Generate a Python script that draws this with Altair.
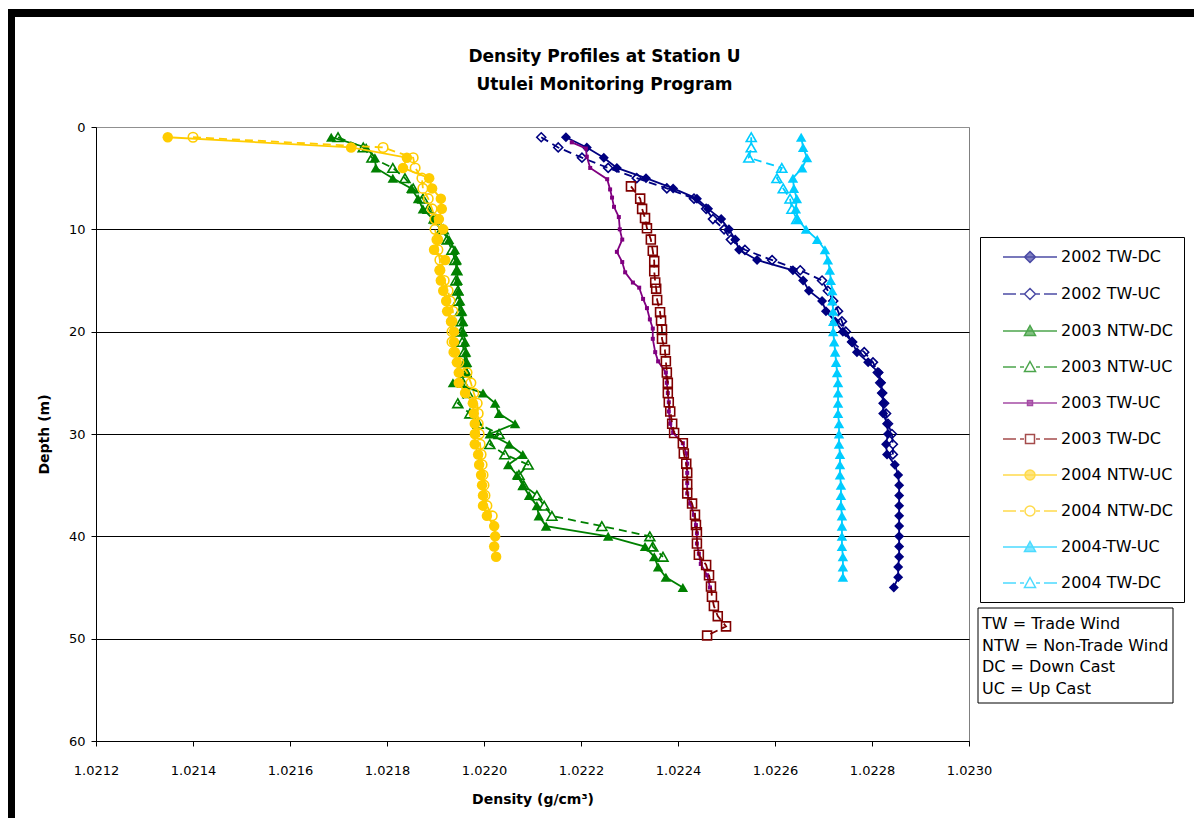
import altair as alt
import pandas as pd

TITLE_LINES = ["Density Profiles at Station U", "Utulei Monitoring Program"]
X_TITLE = "Density (g/cm³)"
Y_TITLE = "Depth (m)"
X_TICKS = [1.0212, 1.0214, 1.0216, 1.0218, 1.0220, 1.0222, 1.0224, 1.0226, 1.0228, 1.0230]
Y_TICKS = [0, 10, 20, 30, 40, 50, 60]
NOTES = ["TW = Trade Wind", "NTW = Non-Trade Wind", "DC = Down Cast", "UC = Up Cast"]

SERIES = ["2002 TW-DC", "2002 TW-UC", "2003 NTW-DC", "2003 NTW-UC", "2003 TW-UC",
          "2003 TW-DC", "2004 NTW-UC", "2004 NTW-DC", "2004-TW-UC", "2004 TW-DC"]

# ---- data (depth in m, density in g/cm3) ----
depth_2002_tw_dc = [1, 2, 3, 4, 5, 6, 7, 8, 9, 10, 11, 12, 13, 14, 15, 16, 17, 18, 19, 20, 21, 22, 23,
                    24, 25, 26, 27, 28, 29, 30, 31, 32, 33, 34, 35, 36, 37, 38, 39, 40, 41, 42, 43, 44, 45]
dens_2002_tw_dc = [1.022169, 1.022212, 1.022247, 1.022274, 1.022334, 1.022390, 1.022439, 1.022462,
                   1.022489, 1.022505, 1.022518, 1.022526, 1.022563, 1.022637, 1.022658, 1.022670,
                   1.022697, 1.022705, 1.022724, 1.022740, 1.022759, 1.022769, 1.022792, 1.022814,
                   1.022819, 1.022821, 1.022823, 1.022823, 1.022831, 1.022833, 1.022829, 1.022831,
                   1.022847, 1.022854, 1.022856, 1.022856, 1.022856, 1.022856, 1.022856, 1.022856,
                   1.022856, 1.022856, 1.022854, 1.022854, 1.022845]

depth_2002_tw_uc = [1, 2, 3, 4, 5, 6, 7, 8, 9, 10, 11, 12, 13, 14, 15, 16, 17, 18, 19, 20, 21, 22,
                    23, 24, 25, 26, 27, 28, 29, 30, 31, 32]
dens_2002_tw_uc = [1.022118, 1.022153, 1.022202, 1.022256, 1.022315, 1.022377, 1.022433, 1.022458,
                   1.022472, 1.022495, 1.022509, 1.022538, 1.022594, 1.022652, 1.022697, 1.022709,
                   1.022720, 1.022730, 1.022738, 1.022746, 1.022759, 1.022784, 1.022802, 1.022812,
                   1.022817, 1.022821, 1.022825, 1.022829, 1.022833, 1.022841, 1.022843, 1.022843]

depth_2003_ntw_dc = [1, 2, 3, 4, 5, 6, 7, 8, 9, 10, 11, 12, 13, 14, 15, 16, 17, 18, 19, 20, 21, 22, 23,
                     24, 25, 26, 27, 28, 29, 30, 31, 32, 33, 34, 35, 36, 37, 38, 39, 40, 41, 42, 43, 44, 45]
dens_2003_ntw_dc = [1.021685, 1.021757, 1.021775, 1.021777, 1.021812, 1.021850, 1.021864, 1.021874,
                    1.021895, 1.021911, 1.021928, 1.021940, 1.021944, 1.021944, 1.021946, 1.021948,
                    1.021951, 1.021955, 1.021957, 1.021957, 1.021961, 1.021963, 1.021965, 1.021965,
                    1.021936, 1.021998, 1.022023, 1.022031, 1.022064, 1.022012, 1.022052, 1.022080,
                    1.022050, 1.022068, 1.022080, 1.022093, 1.022109, 1.022113, 1.022128, 1.022256,
                    1.022332, 1.022351, 1.022359, 1.022375, 1.022410]

depth_2003_ntw_uc = [1, 2, 3, 4, 5, 6, 7, 8, 9, 10, 11, 12, 13, 14, 15, 16, 17, 18, 19, 20, 21, 22, 23,
                     24, 25, 26, 27, 28, 29, 30, 31, 32, 33, 34, 35, 36, 37, 38, 39, 40, 41, 42]
dens_2003_ntw_uc = [1.021699, 1.021751, 1.021769, 1.021812, 1.021837, 1.021854, 1.021874, 1.021885,
                    1.021901, 1.021916, 1.021924, 1.021934, 1.021940, 1.021944, 1.021942, 1.021946,
                    1.021946, 1.021951, 1.021953, 1.021953, 1.021955, 1.021959, 1.021961, 1.021963,
                    1.021957, 1.021967, 1.021946, 1.021971, 1.021988, 1.022031, 1.022012, 1.022043,
                    1.022091, 1.022072, 1.022082, 1.022109, 1.022124, 1.022140, 1.022243, 1.022342,
                    1.022348, 1.022369]

depth_2003_tw_uc = [1.5, 2.1, 2.9, 4.0, 5.1, 6.1, 6.9, 7.8, 8.8, 10.0, 11.0, 12.2, 13.2, 14.2, 15.2,
                    15.7, 16.8, 17.7, 18.8, 19.7, 20.7, 22.0, 22.9, 24.0, 25.0, 26.0, 26.9, 27.8, 29.0,
                    29.9, 30.9, 31.9, 32.9, 33.8, 34.8, 35.8, 36.8, 37.9, 38.9, 39.7, 40.7, 41.7, 42.7,
                    43.8, 45.0]
dens_2003_tw_uc = [1.022181, 1.022210, 1.022212, 1.022219, 1.022254, 1.022260, 1.022264, 1.022268,
                   1.022278, 1.022280, 1.022285, 1.022274, 1.022285, 1.022291, 1.022307, 1.022320,
                   1.022328, 1.022336, 1.022342, 1.022348, 1.022348, 1.022353, 1.022359, 1.022375,
                   1.022377, 1.022379, 1.022381, 1.022381, 1.022384, 1.022390, 1.022410, 1.022417,
                   1.022419, 1.022419, 1.022419, 1.022419, 1.022425, 1.022433, 1.022437, 1.022439,
                   1.022439, 1.022443, 1.022447, 1.022460, 1.022466]

depth_2003_tw_dc = [5.8, 7.0, 8.0, 8.9, 9.9, 11.0, 12.1, 13.1, 14.1, 15.2, 15.8, 16.9, 18.1, 18.9, 19.8,
                    20.7, 21.8, 22.9, 24.0, 25.0, 26.0, 26.9, 27.8, 29.0, 29.9, 30.9, 31.9, 32.9, 33.8,
                    34.9, 35.8, 36.8, 37.9, 38.9, 39.6, 40.7, 41.8, 42.8, 43.8, 44.9, 45.9, 46.8, 47.8,
                    48.8, 49.7]
dens_2003_tw_dc = [1.022303, 1.022322, 1.022326, 1.022332, 1.022336, 1.022344, 1.022348, 1.022351,
                   1.022351, 1.022353, 1.022355, 1.022357, 1.022363, 1.022365, 1.022367, 1.022367,
                   1.022373, 1.022375, 1.022377, 1.022379, 1.022379, 1.022381, 1.022384, 1.022388,
                   1.022392, 1.022410, 1.022412, 1.022417, 1.022419, 1.022419, 1.022419, 1.022429,
                   1.022435, 1.022437, 1.022439, 1.022439, 1.022443, 1.022458, 1.022464, 1.022468,
                   1.022470, 1.022474, 1.022482, 1.022499, 1.022460]

depth_2004_ntw_uc = [1, 2, 3, 4, 5, 6, 7, 8, 9, 10, 11, 12, 13, 14, 15, 16, 17, 18, 19, 20, 21, 22, 23,
                     24, 25, 26, 27, 28, 29, 30, 31, 32, 33, 34, 35, 36, 37, 38, 39, 40, 41, 42]
dens_2004_ntw_uc = [1.021348, 1.021726, 1.021841, 1.021833, 1.021887, 1.021893, 1.021911, 1.021913,
                    1.021907, 1.021916, 1.021905, 1.021897, 1.021920, 1.021909, 1.021911, 1.021916,
                    1.021922, 1.021924, 1.021932, 1.021938, 1.021938, 1.021940, 1.021944, 1.021948,
                    1.021948, 1.021961, 1.021977, 1.021979, 1.021981, 1.021981, 1.021981, 1.021988,
                    1.021990, 1.021994, 1.021996, 1.021998, 1.021998, 1.022006, 1.022021, 1.022023,
                    1.022021, 1.022025]

depth_2004_ntw_dc = [1, 2, 3, 4, 5, 6, 7, 8, 9, 10, 11, 12, 13, 14, 15, 16, 17, 18, 19, 20, 21, 22, 23,
                     24, 25, 26, 27, 28, 29, 30, 31, 32, 33, 34, 35, 36, 37, 38]
dens_2004_ntw_dc = [1.021400, 1.021792, 1.021854, 1.021858, 1.021872, 1.021874, 1.021885, 1.021893,
                    1.021899, 1.021899, 1.021903, 1.021905, 1.021909, 1.021909, 1.021918, 1.021926,
                    1.021930, 1.021936, 1.021934, 1.021934, 1.021934, 1.021938, 1.021948, 1.021965,
                    1.021973, 1.021979, 1.021986, 1.021988, 1.021988, 1.021990, 1.021992, 1.021994,
                    1.021996, 1.021998, 1.022000, 1.022002, 1.022006, 1.022017]

depth_2004_tw_uc = [1, 2, 3, 4, 5, 6, 7, 8, 9, 10, 11, 12, 13, 14, 15, 16, 17, 18, 19, 20, 21, 22, 23,
                    24, 25, 26, 27, 28, 29, 30, 31, 32, 33, 34, 35, 36, 37, 38, 39, 40, 41, 42, 43, 44]
dens_2004_tw_uc = [1.022654, 1.022658, 1.022666, 1.022656, 1.022637, 1.022639, 1.022645, 1.022643,
                   1.022647, 1.022664, 1.022687, 1.022703, 1.022709, 1.022713, 1.022715, 1.022718,
                   1.022718, 1.022720, 1.022720, 1.022720, 1.022722, 1.022724, 1.022726, 1.022728,
                   1.022730, 1.022730, 1.022730, 1.022730, 1.022732, 1.022732, 1.022732, 1.022734,
                   1.022734, 1.022734, 1.022736, 1.022736, 1.022736, 1.022738, 1.022738, 1.022738,
                   1.022738, 1.022740, 1.022740, 1.022740]

depth_2004_tw_dc = [1, 2, 3, 4, 5, 6, 7, 8, 9]
dens_2004_tw_dc = [1.022551, 1.022551, 1.022546, 1.022614, 1.022604, 1.022617, 1.022631, 1.022635,
                   1.022645]

SERIES_DATA = [
    (depth_2002_tw_dc, dens_2002_tw_dc), (depth_2002_tw_uc, dens_2002_tw_uc),
    (depth_2003_ntw_dc, dens_2003_ntw_dc), (depth_2003_ntw_uc, dens_2003_ntw_uc),
    (depth_2003_tw_uc, dens_2003_tw_uc), (depth_2003_tw_dc, dens_2003_tw_dc),
    (depth_2004_ntw_uc, dens_2004_ntw_uc), (depth_2004_ntw_dc, dens_2004_ntw_dc),
    (depth_2004_tw_uc, dens_2004_tw_uc), (depth_2004_tw_dc, dens_2004_tw_dc),
]

# ---- styles ----
COLORS = ["#000080", "#000080", "#008000", "#008000", "#800080",
          "#800000", "#FFCC00", "#FFCC00", "#00CCFF", "#00CCFF"]
SHAPES = ["diamond", "diamond", "triangle-up", "triangle-up", "square",
          "square", "circle", "circle", "triangle-up", "triangle-up"]
FILLED = [True, False, True, False, True, False, True, False, True, False]
DASHED = [False, True, False, True, False, True, False, True, False, True]
SIZES = [100, 80, 110, 100, 16, 80, 110, 90, 110, 100]

FONT = "DejaVu Sans"

# ---- legend symbols: a line segment with the marker in its middle (custom SVG paths) ----
SYM_SIDE = 16.0           # nominal legend symbol side (px)
UNIT = SYM_SIDE / 2       # px per path unit
MARK_CX = 30.0            # marker centre, px to the right of the nominal symbol centre


def _p(xp, yp):
    return f"{(MARK_CX + xp) / UNIT:.3f},{yp / UNIT:.3f}"


def seg(x0, x1):
    return f"M{_p(x0, 0)}L{_p(x1, 0)}"


LINE_SOLID = seg(-27, 27)
LINE_DASH = seg(-27, -14) + seg(-10, -6) + seg(6, 10) + seg(14, 27)
MARK = {
    "diamond": f"M{_p(0, -5.5)}L{_p(5.5, 0)}L{_p(0, 5.5)}L{_p(-5.5, 0)}Z",
    "triangle-up": f"M{_p(0, -5.5)}L{_p(5.5, 4.5)}L{_p(-5.5, 4.5)}Z",
    "circle": (f"M{_p(5, 0)}A{5 / UNIT:.3f},{5 / UNIT:.3f},0,1,1,{_p(-5, 0)}"
               f"A{5 / UNIT:.3f},{5 / UNIT:.3f},0,1,1,{_p(5, 0)}Z"),
    "square": f"M{_p(-4.5, -4.5)}L{_p(4.5, -4.5)}L{_p(4.5, 4.5)}L{_p(-4.5, 4.5)}Z",
    "small": f"M{_p(-2.5, -2.5)}L{_p(2.5, -2.5)}L{_p(2.5, 2.5)}L{_p(-2.5, 2.5)}Z",
}

legend_paths = []
legend_fills = []
for k in range(len(SERIES)):
    mk = MARK["small"] if SIZES[k] < 30 else MARK[SHAPES[k]]
    legend_paths.append((LINE_DASH if DASHED[k] else LINE_SOLID) + mk)
    legend_fills.append(COLORS[k] if FILLED[k] else "transparent")

rows = []
for name, (dep, den) in zip(SERIES, SERIES_DATA):
    for i, (d, v) in enumerate(zip(dep, den)):
        rows.append({"series": name, "i": i, "depth": d, "density": v})
df = pd.DataFrame(rows)

x_enc = alt.X("density:Q",
              scale=alt.Scale(domain=[X_TICKS[0], X_TICKS[-1]], nice=False, zero=False),
              axis=alt.Axis(values=X_TICKS, format=".4f", grid=False, title=X_TITLE,
                            labelFlush=False, labelOverlap=False, tickSize=5, tickColor="black",
                            domainColor="black", labelFont=FONT, labelFontSize=13, labelColor="black",
                            labelPadding=18, titleFont=FONT, titleFontSize=14, titleFontWeight="bold",
                            titleColor="black", titlePadding=15))
y_enc = alt.Y("depth:Q",
              scale=alt.Scale(domain=[Y_TICKS[0], Y_TICKS[-1]], reverse=True, nice=False, zero=False),
              axis=alt.Axis(values=Y_TICKS, grid=True,
                            gridColor={"condition": {"test": "datum.value === 0", "value": "#909090"},
                                       "value": "black"},
                            gridWidth=1, title=Y_TITLE,
                            labelFlush=False, labelOverlap=False, tickSize=5, tickColor="black",
                            domainColor="black", labelFont=FONT, labelFontSize=13, labelColor="black",
                            labelPadding=6, titleFont=FONT, titleFontSize=14, titleFontWeight="bold",
                            titleColor="black", titlePadding=17))

layers = []

# frame of the chart (thick black border along the top and the left side)
one = pd.DataFrame({"k": [0]})
frame = alt.Chart(one).mark_rect(color="black")
layers.append(frame.encode(x=alt.value(-88), x2=alt.value(1106), y=alt.value(-118), y2=alt.value(-110)))
layers.append(frame.encode(x=alt.value(-88), x2=alt.value(-81), y=alt.value(-118), y2=alt.value(700)))

for k, name in enumerate(SERIES):
    base = alt.Chart(df).transform_filter(alt.datum.series == name)
    line_kw = dict(color=COLORS[k], strokeWidth=1.8)
    if DASHED[k]:
        line_kw["strokeDash"] = [8, 5]
    layers.append(base.mark_line(**line_kw).encode(x=x_enc, y=y_enc, order="i:Q"))
    pt_kw = dict(shape=SHAPES[k], filled=FILLED[k], color=COLORS[k], size=SIZES[k], opacity=1)
    if not FILLED[k]:
        pt_kw["strokeWidth"] = 1.6
    layers.append(base.mark_point(**pt_kw).encode(x=x_enc, y=y_enc))

# box behind the notes
layers.append(
    alt.Chart(one).mark_rect(fill="white", stroke="black", strokeWidth=1).encode(
        x=alt.value(882), x2=alt.value(1077), y=alt.value(481), y2=alt.value(576))
)

# series legend (carried by an empty layer)
LEG = alt.Legend(title=None, orient="none", legendX=884, legendY=110, padding=11, rowPadding=19,
                 symbolSize=SYM_SIDE * SYM_SIDE, symbolStrokeWidth=1.5, labelFont=FONT,
                 labelFontSize=16, labelColor="black", labelOffset=52, labelLimit=300,
                 strokeColor="black", fillColor="white")
leg_df = pd.DataFrame({"series": SERIES})
layers.append(
    alt.Chart(leg_df).transform_filter("false").mark_point().encode(
        shape=alt.Shape("series:N", scale=alt.Scale(domain=SERIES, range=legend_paths), legend=LEG),
        stroke=alt.Stroke("series:N", scale=alt.Scale(domain=SERIES, range=COLORS), legend=LEG),
        fill=alt.Fill("series:N", scale=alt.Scale(domain=SERIES, range=legend_fills), legend=LEG),
    )
)

# notes text (carried by an empty layer's legend)
notes_df = pd.DataFrame({"note": NOTES})
layers.append(
    alt.Chart(notes_df).transform_filter("false").mark_point().encode(
        color=alt.Color("note:N", scale=alt.Scale(domain=NOTES, range=["black"] * len(NOTES)),
                        legend=alt.Legend(title=None, orient="none", legendX=865, legendY=484,
                                          padding=5, rowPadding=5.7, symbolSize=0.01,
                                          symbolStrokeWidth=0.01, symbolOpacity=0, labelOffset=0,
                                          labelLimit=300, labelFont=FONT, labelFontSize=16,
                                          labelColor="black"))
    )
)

chart = alt.layer(*layers).properties(
    width=873, height=614,
    title=alt.TitleParams(TITLE_LINES, font=FONT, fontSize=17, fontWeight="bold", anchor="middle",
                          frame="group", dx=72, dy=85, offset=0, lineHeight=28, color="black"),
    autosize=alt.AutoSizeParams(type="none"),
    padding={"left": 88, "top": 119, "right": 225, "bottom": 77},
    background="white",
).configure_view(stroke="#808080", strokeWidth=1)

chart.save("out.html", embed_options={"renderer": "svg", "actions": False})
